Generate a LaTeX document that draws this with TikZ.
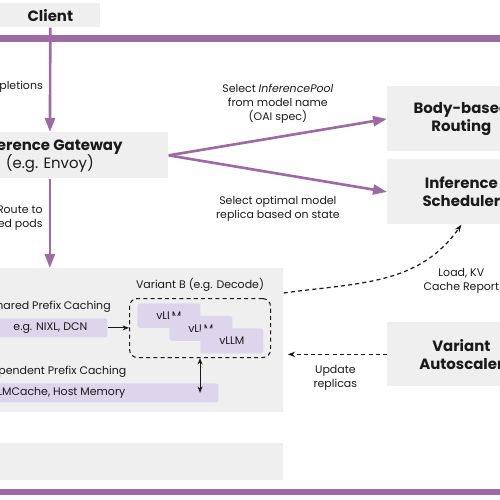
\documentclass[tikz,border=0pt]{standalone}
\usepackage{fontspec}
\setmainfont{Poppins}
\usepackage{xcolor}
\usepackage{tikz}
\usetikzlibrary{arrows.meta}
\usetikzlibrary{shapes,fit,calc,positioning}

\definecolor{barpurple}{HTML}{9D6BA4}
\definecolor{boxgray}{HTML}{EFEFEF}
\definecolor{lilac}{HTML}{DDD5EC}
\definecolor{inkblack}{HTML}{1A1A1A}

\begin{document}
\begin{tikzpicture}[
  font=\fontsize{6.25}{8.2}\selectfont, text=inkblack,
  graybox/.style={fill=boxgray, inner sep=0pt, align=center, font=\fontsize{8.5}{10.2}\selectfont\bfseries},
  lilacbox/.style={fill=lilac, rounded corners=1.5pt, inner sep=0pt},
  lbl/.style={inner sep=0pt, align=center, text=inkblack},
  flow/.style={-{Triangle[length=0.28cm, width=0.2cm]}, barpurple, line width=1.5pt},
  thin/.style={-{Stealth[length=0.13cm, width=0.1cm]}, inkblack, line width=0.6pt},
  report/.style={-{Stealth[length=0.15cm, width=0.11cm]}, inkblack, line width=0.7pt, dash pattern=on 2.3pt off 1.8pt}
]

\useasboundingbox (0,0) rectangle (10,-9.98);
\clip (0,0) rectangle (10,-9.98);

\coordinate(O1) at (0,0);

% bars
\fill[barpurple] (0,-0.70) rectangle (10,-0.84);
\fill[barpurple] (0,-9.78) rectangle (10,-9.90);

\node[below right=0.06cm and 0cm of O1, graybox, minimum width=2cm, minimum height=0.48cm](client) {Client};
\node[below right=2.64cm and -1.38cm of O1, graybox, minimum width=4.74cm, minimum height=0.92cm, font=\fontsize{8.5}{10.2}\selectfont](gw) {\textbf{Inference Gateway}\\(e.g. Envoy)};

\node[below right=1.72cm and 7.74cm of O1, graybox, minimum width=2.96cm, minimum height=1.3cm](body) {Body-based\\Routing};
\node[below right=3.18cm and 7.74cm of O1, graybox, minimum width=2.96cm, minimum height=1.3cm](sched) {Inference\\Scheduler};
\node[below right=6.44cm and 7.74cm of O1, graybox, minimum width=2.96cm, minimum height=1.28cm](auto) {Variant\\Autoscaler};

% variant pools
\node[below right=5.36cm and -2cm of O1, fill=boxgray, minimum width=7.66cm, minimum height=2.88cm, inner sep=0pt](grp) {};
\node[below right=8.86cm and -2cm of O1, fill=boxgray, minimum width=7.66cm, minimum height=0.74cm, inner sep=0pt](grpnext) {};

\node[below right=5.96cm and 2.58cm of O1, draw=inkblack, dash pattern=on 2.3pt off 1.8pt, line width=0.6pt, rounded corners=4.5pt, minimum width=2.82cm, minimum height=1.18cm, inner sep=0pt](grpB) {};
\node[above=0.12cm of grpB, lbl](vbtitle) {Variant B (e.g. Decode)};

\node[below right=6.06cm and 2.74cm of O1, lilacbox, minimum width=1.26cm, minimum height=0.49cm](vllm1) {vLLM};
\node[below right=6.31cm and 3.38cm of O1, lilacbox, minimum width=1.26cm, minimum height=0.5cm](vllm2) {vLLM};
\node[below right=6.56cm and 4.0cm of O1, lilacbox, minimum width=1.26cm, minimum height=0.5cm](vllm3) {vLLM};

\node[below right=6.36cm and -0.14cm of O1, lilacbox, minimum width=2.28cm, minimum height=0.38cm](nixl) {e.g. NIXL, DCN};
\node[above=0.1cm of nixl, lbl](shared) {Shared Prefix Caching};
\node[below right=7.66cm and -1.92cm of O1, lilacbox, minimum width=6.28cm, minimum height=0.38cm](lmc) {LMCache, Host Memory};
\node[above=0.1cm of lmc, xshift=-0.22cm, lbl](indep) {Independent Prefix Caching};

\coordinate (rep) at ($(grp.north east)+(0,-0.5cm)$);

\draw[flow] (client) -- node[lbl, pos=0.57, left=0.12cm](lblreq) {pletions} (gw);
\draw[flow] (gw) -- node[lbl, pos=0.44, left=0.12cm, align=right](lblroute) {Route to\\ed pods} (gw.south |- grp.north);
\draw[flow] (gw.east) -- node[lbl, midway, above=0.24cm](lblpool) {Select \textit{InferencePool}\\from model name\\(OAI spec)} (body.west);
\draw[flow] (gw.east) -- node[lbl, midway, below=0.42cm](lblpick) {Select optimal model\\replica based on state} (sched.west);

\draw[thin] (nixl) -- (nixl -| grpB.west);
\draw[thin, {Stealth[length=0.13cm, width=0.1cm]}-{Stealth[length=0.13cm, width=0.1cm]}] (grpB.south) -- (grpB.south |- lmc);

\draw[report] (rep) to[out=8, in=-125] (sched.south);
\node[below=0.86cm of sched, lbl](lblkv) {Load, KV\\Cache Report};
\draw[report, shorten >=0.08cm] (auto.west) -- node[lbl, midway, below=0.2cm](lblupd) {Update\\replicas} (auto.west -| grp.east);
\end{tikzpicture}
\end{document}
